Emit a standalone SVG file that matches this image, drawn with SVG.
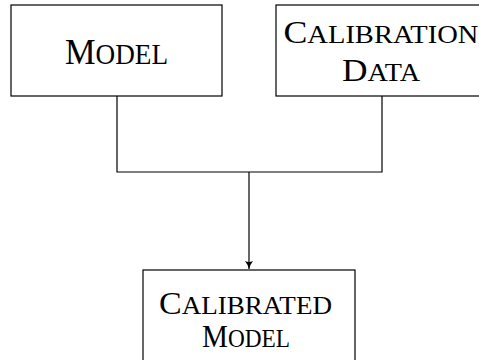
<svg xmlns="http://www.w3.org/2000/svg" width="479" height="360" viewBox="0 0 479 360">
<style>
.box{fill:#fff;stroke:#000;stroke-width:1.2}
.lbl{font-family:"Liberation Serif","DejaVu Serif",serif;fill:#000;text-anchor:middle}
.big{font-size:36px}
.big .sc{font-size:28.5px}
.mid{font-size:32px}
.mid .sc{font-size:25.5px}
.wire{fill:none;stroke:#000;stroke-width:1.2}
</style>
<defs>
<marker id="arr" markerWidth="10" markerHeight="10" refX="8" refY="4" orient="auto" markerUnits="userSpaceOnUse">
<path d="M0,0 Q3,2.5 8,4 Q3,5.5 0,8 Q2,4 0,0 Z" fill="#000"/>
</marker>
</defs>
<rect width="479" height="360" fill="#fff"/>
<g id="connectors">
<polyline class="wire" points="117,96 117,172 382,172 382,96"/>
<line class="wire" x1="249" y1="172" x2="249" y2="269" marker-end="url(#arr)"/>
</g>
<g id="model">
<rect class="box" x="11" y="5" width="211" height="91"/>
<text class="lbl big" x="116.5" y="64" textLength="103" lengthAdjust="spacingAndGlyphs">M<tspan class="sc">ODEL</tspan></text>
</g>
<g id="calibration-data">
<rect class="box" x="276" y="5" width="212" height="91"/>
<text class="lbl mid" x="381" y="43" textLength="195" lengthAdjust="spacingAndGlyphs">C<tspan class="sc">ALIBRATION</tspan></text>
<text class="lbl mid" x="381" y="81" textLength="78" lengthAdjust="spacingAndGlyphs">D<tspan class="sc">ATA</tspan></text>
</g>
<g id="calibrated-model">
<rect class="box" x="143" y="270" width="212" height="100"/>
<text class="lbl mid" x="245.5" y="314" textLength="173" lengthAdjust="spacingAndGlyphs">C<tspan class="sc">ALIBRATED</tspan></text>
<text class="lbl mid" x="246" y="347" textLength="88" lengthAdjust="spacingAndGlyphs">M<tspan class="sc">ODEL</tspan></text>
</g>
</svg>
